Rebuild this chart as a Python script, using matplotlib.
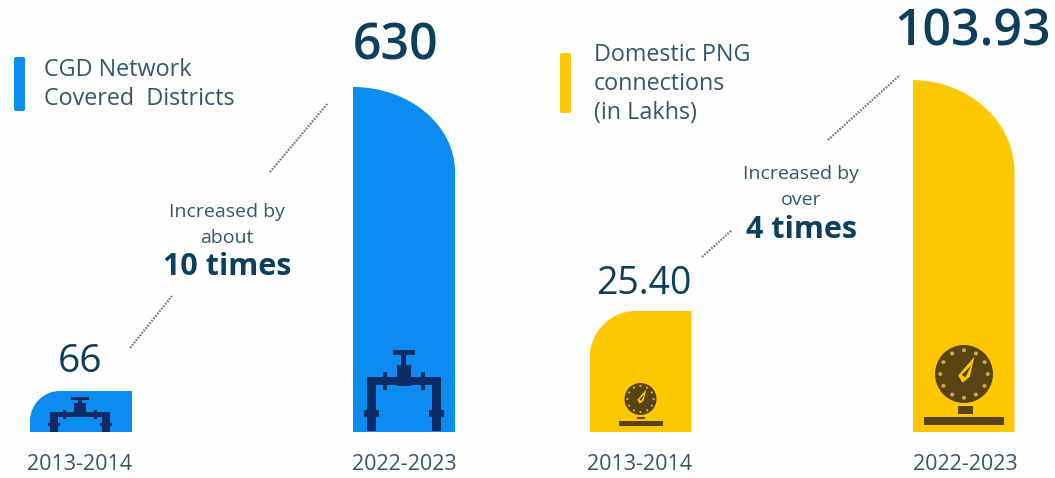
#!/usr/bin/env python3
"""Two-panel infographic: CGD districts and domestic PNG connections, 2013-14 vs 2022-23.

Writes out.png
"""

import matplotlib

matplotlib.use("Agg")

import matplotlib.pyplot as plt
import numpy as np
from matplotlib.patches import Circle, FancyBboxPatch, Polygon, Rectangle
from matplotlib.path import Path

YEARS = ["2013-2014", "2022-2023"]
CGD_DISTRICTS = [66, 630]
CGD_LABELS = ["66", "630"]
PNG_CONNECTIONS = [25.40, 103.93]
PNG_LABELS = ["25.40", "103.93"]

W, H = 1055, 478
BASE_Y = 432
BLUE = "#0a8cf0"
YELLOW = "#fdc800"
NAVY = "#0d2c66"
BROWN = "#5a4312"
TEXT = "#31586a"
DARK = "#0c3f5c"

plt.rcParams["font.family"] = "Open Sans"

fig = plt.figure(figsize=(W / 100, H / 100), dpi=100, facecolor="#fefefe")
over = fig.add_axes([0, 0, 1, 1], zorder=3)
over.set_xlim(0, W)
over.set_ylim(H, 0)
over.axis("off")


def bar_axes(left_px, right_px, first_center, values, top_px, exponent):
    # bars in the source are not to scale, a power scale reproduces their heights
    ax = fig.add_axes([left_px / W, (H - BASE_Y) / H, (right_px - left_px) / W, BASE_Y / H])
    ax.set_yscale("function", functions=(lambda v: np.power(v, exponent), lambda v: np.power(v, 1 / exponent)))
    spacing = 323
    ax.set_xlim((left_px - first_center) / spacing, (right_px - first_center) / spacing)
    ax.set_ylim(0, values[1] * (BASE_Y / (BASE_Y - top_px)) ** (1 / exponent))
    ax.axis("off")
    return ax, 102 / spacing


def round_corner(bar, side, rx, ry):
    box = bar.get_window_extent()
    (x0, y1), (x1, y0) = over.transData.inverted().transform([(box.x0, box.y0), (box.x1, box.y1)])
    k = 0.5523
    if side == "left":
        verts = [(x0, y1), (x0, y0 + ry), (x0, y0 + ry * (1 - k)), (x0 + rx * (1 - k), y0), (x0 + rx, y0),
                 (x1, y0), (x1, y1), (x0, y1)]
        codes = [Path.MOVETO, Path.LINETO, Path.CURVE4, Path.CURVE4, Path.CURVE4, Path.LINETO, Path.LINETO, Path.CLOSEPOLY]
    else:
        verts = [(x0, y1), (x0, y0), (x1 - rx, y0), (x1 - rx * (1 - k), y0), (x1, y0 + ry * (1 - k)), (x1, y0 + ry),
                 (x1, y1), (x0, y1)]
        codes = [Path.MOVETO, Path.LINETO, Path.LINETO, Path.CURVE4, Path.CURVE4, Path.CURVE4, Path.LINETO, Path.CLOSEPOLY]
    bar.set_clip_path(Path(verts, codes), over.transData)


def rect(x0, y0, x1, y1, color):
    over.add_patch(Rectangle((x0, y0), x1 - x0, y1 - y0, fc=color, ec="none"))


def valve(cx, top, sx, sy, pipe):
    def r(a, b, c, d):
        rect(cx + a * sx, top + b * sy, cx + c * sx, top + d * sy, NAVY)

    r(-11, 0, 11, 5 / sy ** 0.5)
    r(-2.5, 5, 2.5, 16)
    r(-7, 15, 7, 36)
    r(-37, pipe[0], 37, pipe[1])
    r(-37, pipe[0], -28, 81)
    r(28, pipe[0], 37, 81)
    r(-40, 60, -25, 67)
    r(25, 60, 40, 67)
    r(-21, pipe[0] - 5, -17, pipe[1] + 5)
    r(17, pipe[0] - 5, 21, pipe[1] + 5)


def gauge(cx, cy, radius, base_half, base_y, base_h):
    over.add_patch(Circle((cx, cy), radius, fc=BROWN, ec="none"))
    for ang in np.arange(0, 360, 30):
        over.add_patch(Circle((cx + 0.82 * radius * np.cos(np.radians(ang)),
                               cy + 0.82 * radius * np.sin(np.radians(ang))),
                              radius * 0.07, fc="#c9ab45", ec="none"))
    tip = (cx + 0.36 * radius, cy - 0.6 * radius)
    over.add_patch(Polygon([tip, (cx - 0.2 * radius, cy + 0.05 * radius), (cx - 0.05 * radius, cy + 0.3 * radius),
                            (cx + 0.2 * radius, cy + 0.1 * radius)], fc=YELLOW, ec="none"))
    over.add_patch(Polygon([(cx + 0.25 * radius, cy - 0.3 * radius), (cx - 0.08 * radius, cy + 0.03 * radius),
                            (cx + 0.05 * radius, cy + 0.12 * radius)], fc=BROWN, ec="none"))
    rect(cx - radius * 0.2, cy + radius + radius * 0.12, cx + radius * 0.3, base_y - radius * 0.12, BROWN)
    rect(cx - base_half, base_y, cx + base_half, base_y + base_h, BROWN)


def dotted(x0, y0, x1, y1):
    over.plot([x0, x1], [y0, y1], color="#6d7f88", lw=1.6, ls=(0, (0.8, 0.6)))


ax_l, width = bar_axes(0, 485, 81, CGD_DISTRICTS, 87, 0.944)
ax_r, _ = bar_axes(540, 1055, 640.5, PNG_CONNECTIONS, 80, 0.758)
bars_l = ax_l.bar(YEARS, CGD_DISTRICTS, width=width, color=BLUE)
bars_r = ax_r.bar(YEARS, PNG_CONNECTIONS, width=width, color=YELLOW)
round_corner(bars_l[0], "left", 30, 30)
round_corner(bars_l[1], "right", 102, 85)
round_corner(bars_r[0], "left", 46, 48)
round_corner(bars_r[1], "right", 103, 92)

for x, lab in zip([80, 404, 640, 965], YEARS + YEARS):
    over.text(x, 465, lab, ha="center", va="center", fontsize=15.5, color=TEXT)

over.text(80, 362, CGD_LABELS[0], ha="center", va="center", fontsize=28, color=DARK)
over.text(396, 46, CGD_LABELS[1], ha="center", va="center", fontsize=36, color=DARK, fontweight="semibold")
over.text(644, 284, PNG_LABELS[0], ha="center", va="center", fontsize=27, color=DARK)
over.text(973, 32, PNG_LABELS[1], ha="center", va="center", fontsize=36, color=DARK, fontweight="semibold")

for x, y, h, c in [(14, 57, 54, BLUE), (560, 53, 60, YELLOW)]:
    over.add_patch(FancyBboxPatch((x + 2, y + 2), 7, h - 4, boxstyle="round,pad=2", fc=c, ec="none"))
over.text(44, 70, "CGD Network", va="center", fontsize=16.8, color=TEXT)
over.text(44, 99, "Covered  Districts", va="center", fontsize=16.8, color=TEXT)
for y, lab in zip([55, 84, 113], ["Domestic PNG", "connections", "(in Lakhs)"]):
    over.text(594, y, lab, va="center", fontsize=16.8, color=TEXT)

over.text(227, 212, "Increased by", ha="center", va="center", fontsize=14, color=TEXT)
over.text(227, 238, "about", ha="center", va="center", fontsize=14, color=TEXT)
over.text(227, 267, "10 times", ha="center", va="center", fontsize=22, color=DARK, fontweight="bold")
over.text(801, 174, "Increased by", ha="center", va="center", fontsize=14, color=TEXT)
over.text(801, 200, "over", ha="center", va="center", fontsize=14, color=TEXT)
over.text(801, 230, "4 times", ha="center", va="center", fontsize=22, color=DARK, fontweight="bold")

dotted(270, 172, 328, 103)
dotted(130, 348, 172, 296)
dotted(828, 140, 900, 75)
dotted(702, 257, 732, 230)

valve(403.5, 350, 1.0, 1.0, (27, 35))
valve(80, 397, 0.8, 0.43, (36, 46))
gauge(964, 374, 29, 40, 417, 8)
gauge(640.5, 399, 16, 22, 421, 5)

fig.savefig("out.png", dpi=100, facecolor=fig.get_facecolor())
